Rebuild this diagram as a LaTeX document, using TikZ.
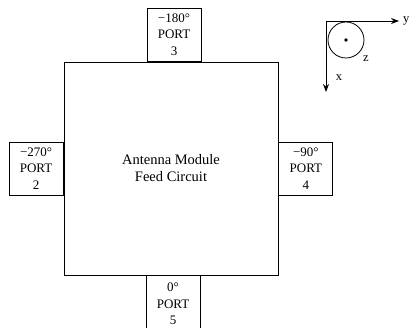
\documentclass[tikz,border=0pt]{standalone}
\usepackage{fontspec}
\setmainfont{Liberation Serif}
\usetikzlibrary{positioning, arrows.meta}

\tikzset{
  port/.style={draw, line width=0.9pt, fill=white, minimum width=54pt, minimum height=53pt,
    inner sep=0pt, align=center, font=\fontsize{13}{16.5}\selectfont},
  axis/.style={-{Stealth[length=8pt, width=6pt]}, line width=0.8pt},
  axislabel/.style={font=\fontsize{12.5}{14}\selectfont, inner sep=1pt}
}

\begin{document}
\begin{tikzpicture}[x=1pt, y=-1pt]
      \useasboundingbox (0,0) rectangle (413,328);
      % module body
      \node[draw, line width=0.9pt, minimum width=214pt, minimum height=213pt, align=center,
            font=\fontsize{14.5}{17}\selectfont] (module) at (171,168.5) {Antenna Module\\Feed Circuit};
      % ports round the body
      \node[port, anchor=south] (port3) at ([xshift=3pt]module.north) {−180°\\PORT\\3};
      \node[port, anchor=east] (port2) at (module.west) {−270°\\PORT\\2};
      \node[port, anchor=west] (port4) at (module.east) {−90°\\PORT\\4};
      \node[port, anchor=north, minimum height=56pt] (port5) at ([xshift=2pt]module.south) {0°\\PORT\\5};
      % coordinate frame
      \coordinate (origin) at (326,21);
      \coordinate (yend) at (399,21);
      \coordinate (xend) at (326,92);
      \draw[axis] (origin) -- (yend);
      \draw[axis] (origin) -- (xend);
      \node[axislabel, right=3pt of yend] (ylab) {y};
      \node[axislabel] (xlab) at (339,78) {x};
      \draw[line width=0.8pt] (346,40) circle (18pt);
      \fill (346,40) circle (1.9pt);
      \node[axislabel] (zlab) at (366,59) {z};
\end{tikzpicture}
\end{document}
